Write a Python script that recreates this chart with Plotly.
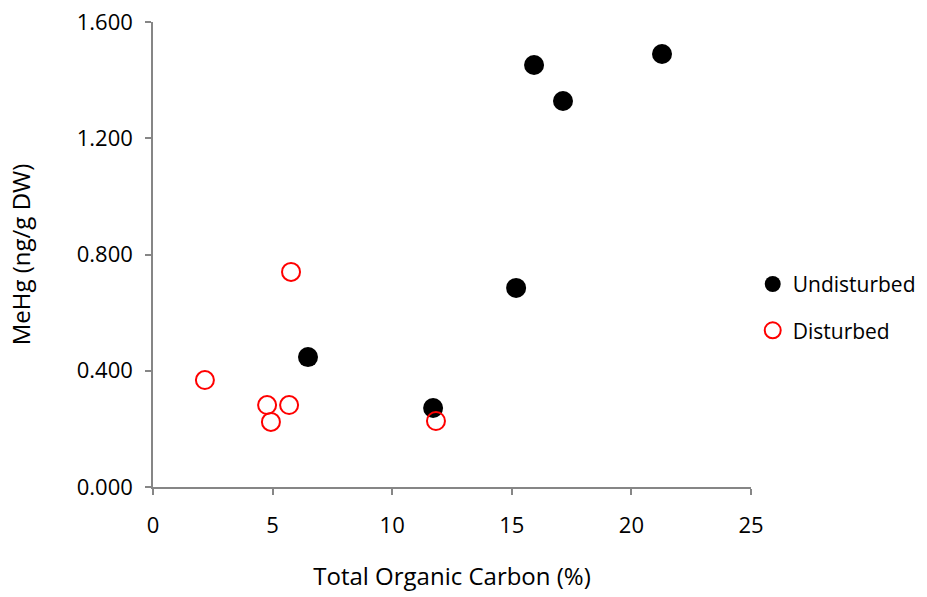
import plotly.graph_objects as go

undist_toc = [6.48, 11.71, 15.18, 15.93, 17.14, 21.28]
undist_mehg = [0.447, 0.272, 0.685, 1.452, 1.328, 1.490]
dist_toc = [2.17, 4.77, 4.93, 5.69, 5.77, 11.83]
dist_mehg = [0.368, 0.282, 0.224, 0.282, 0.740, 0.227]
x_ticks = [0, 5, 10, 15, 20, 25]
y_ticks = [0.0, 0.4, 0.8, 1.2, 1.6]
y_tick_text = ["0.000", "0.400", "0.800", "1.200", "1.600"]

font = "Open Sans, Liberation Sans, sans-serif"
fig = go.Figure()
fig.add_trace(go.Scatter(x=undist_toc, y=undist_mehg, mode="markers", name="Undisturbed",
                         legendgroup="a",
                         marker=dict(symbol="circle", size=20, color="black", line=dict(width=0))))
fig.add_trace(go.Scatter(x=dist_toc, y=dist_mehg, mode="markers", name="Disturbed",
                         legendgroup="b",
                         marker=dict(symbol="circle-open", size=18, color="red", line=dict(width=2, color="red"))))

axcol = "#868686"
fig.update_layout(
    width=927, height=597,
    margin=dict(l=153, r=176, t=22, b=110, autoexpand=False),
    plot_bgcolor="white", paper_bgcolor="white",
    font=dict(family=font, size=22, color="black"),
    showlegend=True,
    legend=dict(xref="container", yref="container", x=0.812, y=0.558,
                xanchor="left", yanchor="top", tracegroupgap=16, itemwidth=30,
                font=dict(size=21), itemsizing="trace", bgcolor="rgba(0,0,0,0)"),
    xaxis=dict(range=[0, 25], tickvals=x_ticks, showgrid=False, zeroline=False,
               showline=True, linecolor=axcol, linewidth=1.5, ticks="outside",
               tickcolor=axcol, ticklen=6, tickwidth=1.5, ticklabelstandoff=12,
               automargin=False,
               title=dict(text="Total Organic Carbon (%)", font=dict(size=24), standoff=30)),
    yaxis=dict(range=[0, 1.6], tickvals=y_ticks, ticktext=y_tick_text, showgrid=False,
               zeroline=False, showline=True, linecolor=axcol, linewidth=1.5,
               ticks="outside", tickcolor=axcol, ticklen=6, tickwidth=1.5,
               ticklabelstandoff=8, automargin=False,
               title=dict(text="MeHg (ng/g DW)", font=dict(size=24), standoff=39)),
)
fig.write_html("out.html")
